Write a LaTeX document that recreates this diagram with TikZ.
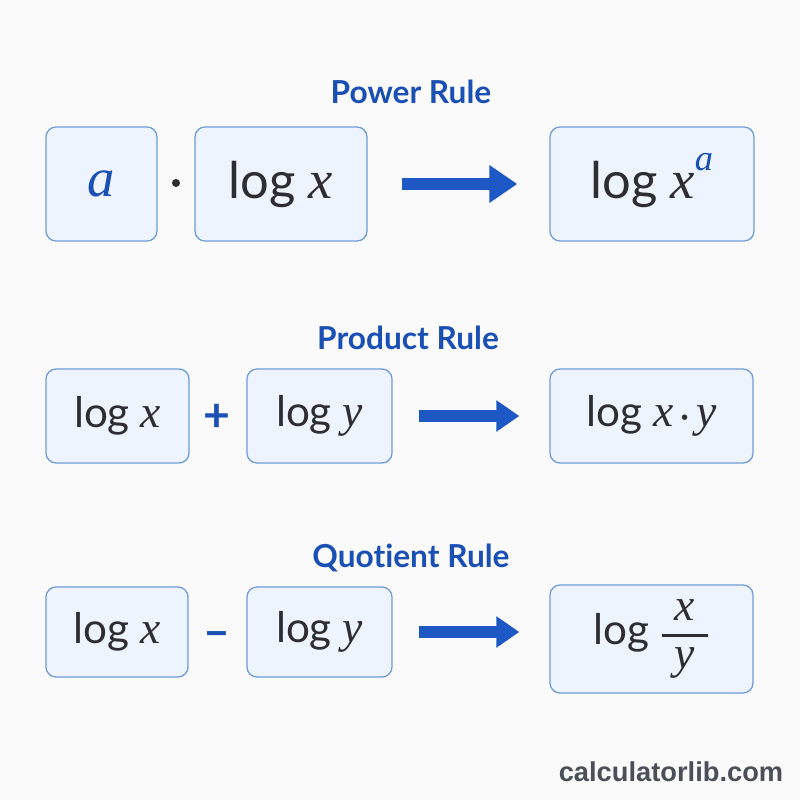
\documentclass[tikz,border=0pt]{standalone}
\usepackage{amsmath}
\usepackage{fontspec}
\setmainfont{Lato}[Ligatures=NoCommon]
\newfontfamily\sitefont{Liberation Sans}
\newfontfamily\varfont[Scale=1.08]{Liberation Serif}
\usepackage{tikz}
\usetikzlibrary{arrows.meta,positioning}
\definecolor{ruleblue}{RGB}{26,79,180}
\definecolor{arrowblue}{RGB}{30,88,196}
\definecolor{boxblue}{RGB}{238,244,253}
\definecolor{boxedge}{RGB}{111,155,216}
\definecolor{inkgray}{RGB}{45,45,50}
\definecolor{sitegray}{RGB}{74,79,89}
\definecolor{paper}{RGB}{250,250,251}
\newcommand{\logvar}[1]{{\varfont\itshape #1}}
\tikzset{
    termbox/.style={rectangle, rounded corners=0.25cm, draw=boxedge, fill=boxblue, line width=0.9pt, inner sep=0pt, text=inkgray, font=\fontsize{30}{36}\selectfont},
    bigterm/.style={termbox, font=\fontsize{36}{42}\selectfont},
    ruletitle/.style={text=ruleblue, font=\bfseries\fontsize{22.5}{28}\selectfont},
    opsign/.style={text=ruleblue, font=\bfseries\fontsize{33}{36}\selectfont},
    fatarrow/.style={arrowblue, line width=0.3cm, -{Triangle[length=0.7cm,width=0.9cm]}},
    slimarrow/.style={arrowblue, line width=0.3cm, -{Triangle[length=0.575cm,width=0.75cm]}},
}
\begin{document}
\begin{tikzpicture}[x=0.025cm, y=-0.025cm]
    \fill[paper] (0,0) rectangle (800,800);
    % Power rule
    \node[ruletitle] (tpow) at (411,92) {Power Rule};
    \node[bigterm, minimum width=2.775cm, minimum height=2.85cm, text=ruleblue] (pa) at (101.5,184) {\logvar{a}};
    \node[circle, fill=inkgray, inner sep=0pt, minimum size=0.2cm] (pdot) at (176,183) {};
    \node[bigterm, minimum width=4.3cm, minimum height=2.85cm] (px) at (281,184) {log \logvar{x}};
    \node[bigterm, minimum width=5.1cm, minimum height=2.85cm] (pres) at (652,184) {log \logvar{x\smash{\raisebox{0.5em}{\fontsize{24}{24}\selectfont\color{ruleblue}a}}}};
    \draw[fatarrow, shorten <=0.85cm, shorten >=0.8cm] (px.east) -- (pres.west);
    % Product rule
    \node[ruletitle] (tprod) at (408,338) {Product Rule};
    \node[termbox, minimum width=3.575cm, minimum height=2.35cm] (rx) at (117.5,416) {log \logvar{x}};
    \node[opsign] (rplus) at (217,418) {+};
    \node[termbox, minimum width=3.625cm, minimum height=2.35cm] (ry) at (319.5,416) {log \logvar{y}};
    \node[termbox, minimum width=5.075cm, minimum height=2.35cm] (rres) at (651.5,416) {log \logvar{x}$\,\boldsymbol{\cdot}\,$\logvar{y}};
    \draw[slimarrow, shorten <=0.65cm, shorten >=0.75cm] (ry.east) -- (rres.west);
    % Quotient rule
    \node[ruletitle] (tquot) at (411,558) {Quotient Rule};
    \node[termbox, minimum width=3.55cm, minimum height=2.25cm] (qx) at (117,632) {log \logvar{x}};
    \node[opsign] (qminus) at (217,640) {–};
    \node[termbox, minimum width=3.625cm, minimum height=2.25cm] (qy) at (319.5,632) {log \logvar{y}};
    \node[termbox, minimum width=5.075cm, minimum height=2.7cm] (qres) at (651.5,639) {log $\genfrac{}{}{2pt}{0}{\hbox to 1.1em{\hfil\logvar{x}\hfil}}{\hbox to 1.1em{\hfil\logvar{y}\hfil}}$};
    \draw[slimarrow, shorten <=0.65cm, shorten >=0.75cm] (qy.east) -- (qy.east -| qres.west);
    % Footer
    \node[text=sitegray, font=\sitefont\bfseries\fontsize{19.4}{22}\selectfont] (site) at (671,772) {calculatorlib.com};
\end{tikzpicture}
\end{document}
